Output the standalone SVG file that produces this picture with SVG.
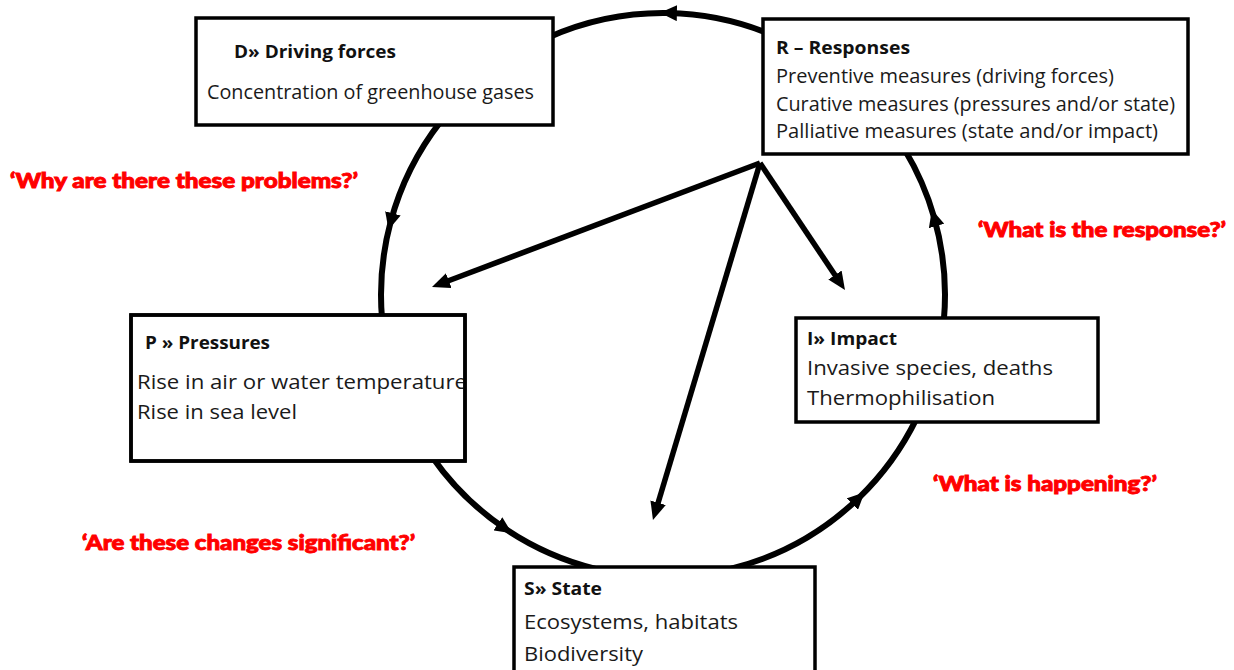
<svg xmlns="http://www.w3.org/2000/svg" width="1234" height="670" viewBox="0 0 1234 670">
<style>
.box{fill:#fff;stroke:#000;stroke-width:3.5}
.frame{fill:none;stroke:#000;stroke-width:3.5}
.arc{fill:none;stroke:#000;stroke-width:6;stroke-linecap:round;marker-mid:url(#am)}
.ray{fill:none;stroke:#000;stroke-width:5.5;marker-end:url(#ah)}
.h{font-family:"Open Sans",Lato,"Liberation Sans",sans-serif;font-weight:bold;font-size:18px;fill:#111}
.t{font-family:"Open Sans",Lato,"Liberation Sans",sans-serif;font-size:20px;fill:#1a1a1a}
.q{font-family:Lato,"Open Sans","Liberation Sans",sans-serif;font-weight:900;font-size:20px;fill:#ff0000;stroke:#ff0000;stroke-width:0.9}
</style>
<defs>
<marker id="am" markerUnits="userSpaceOnUse" markerWidth="18" markerHeight="16" refX="9" refY="8" orient="auto"><path d="M0,0 L17,8 L0,16 z" fill="#000"/></marker>
<marker id="ah" markerUnits="userSpaceOnUse" markerWidth="20" markerHeight="16" refX="6" refY="8" orient="auto"><path d="M0,0 L18,8 L0,16 z" fill="#000"/></marker>
</defs>
<rect width="1234" height="670" fill="#fff"/>
<g id="connectors">
<path class="arc" d="M768.6,33.5 A282,282 0 0 0 667.9,13 A282,282 0 0 0 548.3,37.4"/>
<path class="arc" d="M440.8,121.4 A282,282 0 0 0 390.6,222 A282,282 0 0 0 382.1,319.6"/>
<path class="arc" d="M432,456.7 A282,282 0 0 0 505.3,528.8 A282,282 0 0 0 594.8,568.6"/>
<path class="arc" d="M731.2,568.6 A282,282 0 0 0 858.9,497.8 A282,282 0 0 0 916.5,418.6"/>
<path class="arc" d="M943.9,319.6 A282,282 0 0 0 934.1,217.3 A282,282 0 0 0 904.7,149.8"/>
<path class="ray" d="M760,163 L443.2,282.8"/>
<path class="ray" d="M760,163 L656.4,508.5"/>
<path class="ray" d="M760,163 L838.3,280"/>
</g>
<g id="node-d">
<rect class="box" x="196" y="18" width="357" height="107"/>
<text class="h" x="234" y="58" textLength="162" lengthAdjust="spacingAndGlyphs">D» Driving forces</text>
<text class="t" x="207" y="99" textLength="327" lengthAdjust="spacingAndGlyphs">Concentration of greenhouse gases</text>
</g>
<g id="node-r">
<rect class="box" x="763" y="19" width="425" height="135"/>
<text class="h" x="776" y="54" textLength="134" lengthAdjust="spacingAndGlyphs">R – Responses</text>
<text class="t" x="776" y="83" textLength="338" lengthAdjust="spacingAndGlyphs">Preventive measures (driving forces)</text>
<text class="t" x="776" y="111" textLength="399" lengthAdjust="spacingAndGlyphs">Curative measures (pressures and/or state)</text>
<text class="t" x="776" y="138" textLength="382" lengthAdjust="spacingAndGlyphs">Palliative measures (state and/or impact)</text>
</g>
<g id="node-p">
<rect class="box" x="131" y="315" width="334" height="146"/>
<text class="h" x="145" y="349" textLength="125" lengthAdjust="spacingAndGlyphs">P » Pressures</text>
<text class="t" x="137" y="389" textLength="330" lengthAdjust="spacingAndGlyphs">Rise in air or water temperature</text>
<text class="t" x="137" y="419" textLength="160" lengthAdjust="spacingAndGlyphs">Rise in sea level</text>
<rect class="frame" x="131" y="315" width="334" height="146"/>
</g>
<g id="node-i">
<rect class="box" x="796" y="318" width="302" height="104"/>
<text class="h" x="807" y="345" textLength="90" lengthAdjust="spacingAndGlyphs">I» Impact</text>
<text class="t" x="807" y="375" textLength="246" lengthAdjust="spacingAndGlyphs">Invasive species, deaths</text>
<text class="t" x="807" y="405" textLength="188" lengthAdjust="spacingAndGlyphs">Thermophilisation</text>
</g>
<g id="node-s">
<rect class="box" x="514" y="567" width="301" height="120"/>
<text class="h" x="524" y="595" textLength="78" lengthAdjust="spacingAndGlyphs">S» State</text>
<text class="t" x="524" y="629" textLength="214" lengthAdjust="spacingAndGlyphs">Ecosystems, habitats</text>
<text class="t" x="524" y="661" textLength="119" lengthAdjust="spacingAndGlyphs">Biodiversity</text>
</g>
<g id="labels">
<text class="q" x="10" y="188" textLength="348" lengthAdjust="spacingAndGlyphs">‘Why are there these problems?’</text>
<text class="q" x="978" y="237" textLength="248" lengthAdjust="spacingAndGlyphs">‘What is the response?’</text>
<text class="q" x="82" y="550" textLength="333" lengthAdjust="spacingAndGlyphs">‘Are these changes significant?’</text>
<text class="q" x="933" y="491" textLength="224" lengthAdjust="spacingAndGlyphs">‘What is happening?’</text>
</g>
</svg>
